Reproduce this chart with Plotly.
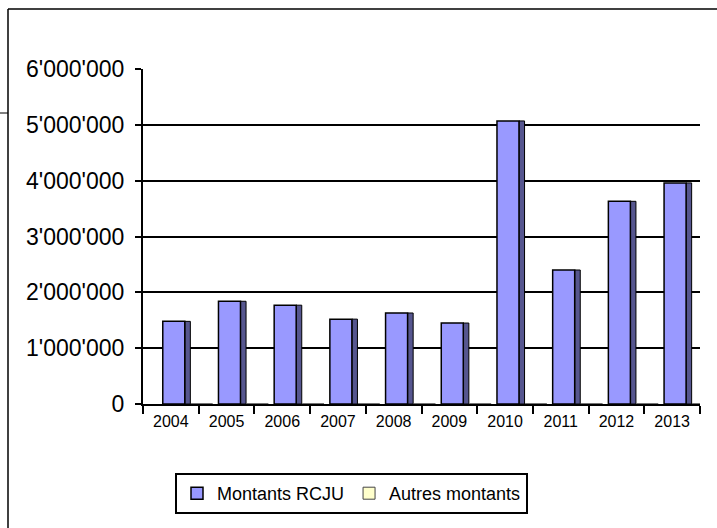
import plotly.graph_objects as go

years = ["2004", "2005", "2006", "2007", "2008", "2009", "2010", "2011", "2012", "2013"]
montants_rcju = [1480000, 1840000, 1770000, 1520000, 1630000, 1450000, 5070000, 2400000, 3630000, 3960000]
autres_montants = [0, 0, 0, 0, 0, 0, 0, 0, 0, 0]
y_ticks = [0, 1000000, 2000000, 3000000, 4000000, 5000000, 6000000]

W, H = 717, 528
L, R, T, B = 143, 700, 69, 404  # plot area in pixels

def px(x):
    return (x - L) / (R - L)

def py(y):
    return (B - y) / (B - T)

fig = go.Figure()

# dark side face (3D look)
fig.add_trace(go.Bar(
    x=years, y=montants_rcju, offset=0.25, width=0.1,
    marker=dict(color="#56568f", line=dict(color="black", width=1)),
    showlegend=False, hoverinfo="skip",
))
fig.add_trace(go.Bar(
    x=years, y=montants_rcju, name="Montants RCJU", offset=-0.145, width=0.395,
    marker=dict(color="#9999ff", line=dict(color="black", width=1.5)),
))
fig.add_trace(go.Bar(
    x=years, y=autres_montants, name="Autres montants", offset=0.36, width=0.39,
    marker=dict(color="#ffffcc", line=dict(color="#444444", width=1)),
))

shapes = [
    dict(type="line", xref="paper", yref="paper", x0=px(8), x1=px(717), y0=py(9), y1=py(9),
         line=dict(color="black", width=1.5)),
    dict(type="line", xref="paper", yref="paper", x0=px(8), x1=px(8), y0=py(9), y1=py(528),
         line=dict(color="black", width=1.5)),
    dict(type="line", xref="paper", yref="paper", x0=px(0), x1=px(8), y0=py(113), y1=py(113),
         line=dict(color="black", width=1)),
]

fig.update_layout(
    width=W, height=H,
    margin=dict(l=L, r=W - R, t=T, b=H - B),
    paper_bgcolor="white", plot_bgcolor="white",
    barmode="overlay",
    separators=".'",
    font=dict(family="Liberation Sans, Arial, sans-serif", color="black"),
    shapes=shapes,
    xaxis=dict(
        type="category", showgrid=False, showline=True, linecolor="black", linewidth=2,
        ticks="outside", tickson="boundaries", ticklen=8, tickwidth=1.5, tickcolor="black",
        tickfont=dict(size=16), range=[-0.5, 9.5], ticklabelstandoff=2,
    ),
    yaxis=dict(
        range=[0, 6000000], tickvals=y_ticks, tickformat=",d",
        showgrid=True, gridcolor="black", gridwidth=1.8,
        showline=True, linecolor="black", linewidth=2,
        ticks="outside", ticklen=6, tickwidth=1.5, tickcolor="black",
        tickfont=dict(size=23), zeroline=False, ticklabelstandoff=6,
    ),
    legend=dict(
        orientation="h", x=px(175), xanchor="left", y=py(473), yanchor="top",
        bordercolor="black", borderwidth=2, font=dict(size=18),
        itemwidth=30, tracegroupgap=0,
    ),
    showlegend=True,
)

fig.write_html(
    "out.html",
    config={"displayModeBar": False},
    post_script="document.body.style.margin='0';document.body.style.padding='0';",
)
